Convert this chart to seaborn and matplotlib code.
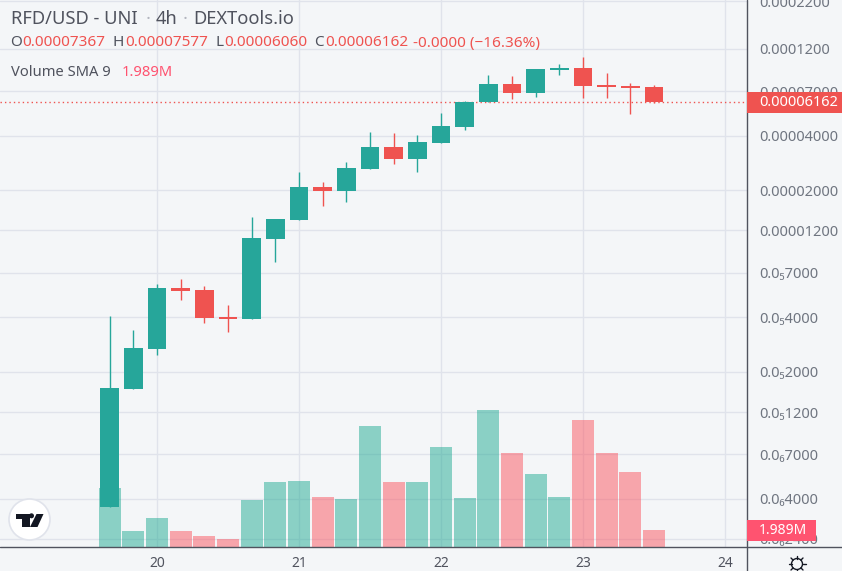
import numpy as np
import pandas as pd
import matplotlib
matplotlib.use("Agg")
import matplotlib.pyplot as plt
from matplotlib.patches import Rectangle, Circle, Polygon
from matplotlib.lines import Line2D
from matplotlib.ticker import FixedLocator, FixedFormatter, NullLocator
from matplotlib.transforms import Affine2D
import seaborn as sns

# ---- data (prices in millionths of USD, volume in millions) ----
bar_index = list(range(24))
open_u = [0.3596, 1.607, 2.668, 5.786, 5.642, 4.005, 3.905, 10.77, 13.71, 20.84, 19.81, 26.19,
          34.62, 29.72, 36.41, 44.61, 61.26, 76.97, 68.66, 91.94, 94.30, 76.00, 75.00, 73.67]
close_u = [1.627, 2.703, 5.786, 5.571, 3.955, 3.905, 10.91, 13.89, 20.84, 19.81, 26.52, 34.62,
           29.72, 36.89, 45.18, 61.26, 76.97, 68.66, 93.11, 94.30, 75.04, 74.10, 73.20, 61.62]
high_u = [4.057, 3.395, 6.086, 6.487, 5.935, 4.664, 14.24, 13.89, 25.20, 22.20, 28.61, 41.86,
          41.33, 40.31, 53.28, 62.05, 86.29, 85.20, 93.11, 99.20, 108.4, 88.50, 78.00, 75.77]
low_u = [0.3596, 1.607, 2.473, 4.970, 3.712, 3.311, 3.905, 8.049, 13.71, 16.38, 17.23, 26.19,
         27.90, 25.20, 36.41, 42.95, 61.26, 63.63, 65.27, 86.29, 64.45, 64.45, 52.60, 60.60]
volume_m = [6.90, 1.87, 3.39, 1.87, 1.29, 0.94, 5.50, 7.60, 7.72, 5.85, 5.62, 14.16,
            7.60, 7.60, 11.70, 5.73, 16.03, 11.00, 8.54, 5.85, 14.86, 11.00, 8.78, 1.989]

price_ticks_u = [220, 120, 70, 40, 20, 12, 7, 4, 2, 1.2, 0.7, 0.4, 0.24]
price_labels = ["0.0002200", "0.0001200", "0.00007000", "0.00004000", "0.00002000", "0.00001200",
                "0.0\u20857000", "0.0\u20854000", "0.0\u20852000", "0.0\u20851200",
                "0.0\u20867000", "0.0\u20864000", "0.0\u20862400"]
day_positions = [2, 8, 14, 20, 26]
day_labels = ["20", "21", "22", "23", "24"]

W, H = 842, 571
BG = "#f4f6f8"; GRID = "#e0e3eb"; UP = "#26a69a"; DOWN = "#ef5350"
VOL_UP = "#22ab94"; VOL_DOWN = "#fa5560"; TAG = "#ff5370"
AXIS = "#50535e"; LABEL = "#6f7580"

sns.set_theme(style="white")
FONT = ["Noto Sans", "DejaVu Sans"]
plt.rcParams["font.family"] = FONT

o, c, h, l = (np.array(a) * 1e-6 for a in (open_u, close_u, high_u, low_u))
is_up = c >= o

fig = plt.figure(figsize=(W / 100, H / 100), dpi=100, facecolor=BG)
rect = [0, 24 / H, 747 / W, 547 / H]
XLIM = (-4.633, 26.93)
YLIM = (0.2165e-6, 223.4e-6)

# base axes: background, grid, tick labels
ax = fig.add_axes(rect, facecolor=BG, zorder=0)
ax.set_yscale("log")
ax.set_xlim(*XLIM); ax.set_ylim(*YLIM)
ax.yaxis.set_major_locator(FixedLocator(np.array(price_ticks_u) * 1e-6))
ax.yaxis.set_major_formatter(FixedFormatter(price_labels))
ax.yaxis.set_minor_locator(NullLocator())
ax.yaxis.tick_right()
ax.set_xticks(day_positions, day_labels)
ax.grid(True, color=GRID, lw=1.0)
ax.set_axisbelow(True)
ax.tick_params(axis="y", length=0, pad=8.5, labelsize=10.5, labelcolor=LABEL)
ax.tick_params(axis="x", length=0, pad=6.5, labelsize=10, labelcolor=AXIS)
for t in ax.get_xticklabels():
    t.set_fontweight("bold")
sns.despine(ax=ax, left=True, bottom=True, right=True, top=True)

# volume axes
ax_v = fig.add_axes(rect, facecolor="none", zorder=1)
vol_df = pd.DataFrame({"i": bar_index, "volume": volume_m,
                       "dir": np.where(is_up, "up", "down")})
sns.barplot(data=vol_df, x="i", y="volume", hue="dir", native_scale=True, dodge=False,
            palette={"up": VOL_UP, "down": VOL_DOWN}, width=0.93, gap=0, saturation=1,
            alpha=0.5, linewidth=0, legend=False, ax=ax_v)
ax_v.set_xlim(*XLIM); ax_v.set_ylim(0, 64)
ax_v.axis("off")

# candle axes
ax_c = fig.add_axes(rect, facecolor="none", zorder=2)
ax_c.set_yscale("log")
ax_c.set_xlim(*XLIM); ax_c.set_ylim(*YLIM)
ax_c.axis("off")
colors = [UP if u else DOWN for u in is_up]
ax_c.vlines(bar_index, l, h, colors=colors, lw=1.0, zorder=2)
ax_c.bar(bar_index, np.abs(c - o), bottom=np.minimum(o, c), width=0.8, color=colors, lw=0, zorder=3)
ax_c.axhline(c[-1], color=DOWN, lw=1.0, ls=(0, (1, 2.2)), zorder=1)


def px(x, y):
    return x / W, 1 - y / H


def ftext(x, y, s, color=AXIS, size=11, **kw):
    fx, fy = px(x, y)
    fig.text(fx, fy, s, color=color, fontsize=size, va="center", ha=kw.pop("ha", "left"),
             zorder=6, **kw)


# header
ftext(11, 19, "RFD/USD - UNI", size=13.2)
ftext(146, 19, "\u00b7", color="#b2b5be", size=13.2)
ftext(156, 19, "4h", size=13.2)
ftext(183, 19, "\u00b7", color="#b2b5be", size=13.2)
ftext(193, 19, "DEXTools.io", size=13.2)
for x, s in [(10, "O"), (113, "H"), (215, "L"), (314, "C")]:
    ftext(x, 43, s)
for x, s in [(22, "0.00007367"), (125, "0.00007577"), (224, "0.00006060"),
             (325, "0.00006162"), (413, "-0.0000 (\u221216.36%)")]:
    ftext(x, 43, s, color=DOWN)
ftext(11, 72, "Volume SMA 9", size=10.6)
ftext(122, 72, "1.989M", color=TAG, size=10.6)

# axis lines
fig.add_artist(Line2D([747 / W, 747 / W], [0, 1], color=AXIS, lw=1.0, zorder=3))
fig.add_artist(Line2D([0, 1], [1 - 547 / H, 1 - 547 / H], color=AXIS, lw=1.0, zorder=3))

# last-price and last-volume tags
fig.add_artist(Rectangle(px(747, 113), 95 / W, 21 / H, transform=fig.transFigure, color=DOWN, lw=0, zorder=5))
ftext(759, 102.5, "0.00006162", color="white", size=10.5, fontweight="bold")
fig.add_artist(Rectangle(px(747, 541), 69 / W, 21 / H, transform=fig.transFigure, color=TAG, lw=0, zorder=5))
ftext(759, 530.5, "1.989M", color="white", size=10, fontweight="bold")

# logo and settings icon, drawn in pixel coordinates
T = Affine2D().scale(1, -1).translate(0, H)
fig.add_artist(Circle((29.5, 519.5), 20.5, transform=T, fc="white", ec="#e0e3eb", lw=1.2, zorder=5))
INK = "#131722"
fig.add_artist(Polygon([(16, 514), (29.5, 514), (29.5, 527), (21.5, 527), (21.5, 519), (16, 519)],
                       transform=T, fc=INK, ec="none", zorder=6))
fig.add_artist(Circle((31.5, 515.8), 2.5, transform=T, fc=INK, ec="none", zorder=6))
fig.add_artist(Polygon([(36.5, 514), (43.5, 514), (37.5, 527), (30, 527)], transform=T, fc=INK, ec="none", zorder=6))

fig.add_artist(Circle((797, 564), 5.5, transform=T, fc="none", ec=INK, lw=1.0, zorder=6))
for a in np.deg2rad(np.arange(0, 360, 45)):
    fig.add_artist(Line2D([797 + 5.5 * np.cos(a), 797 + 8.5 * np.cos(a)],
                          [564 + 5.5 * np.sin(a), 564 + 8.5 * np.sin(a)],
                          transform=T, color=INK, lw=1.0, zorder=6))

fig.savefig("out.png", dpi=100, facecolor=BG)
